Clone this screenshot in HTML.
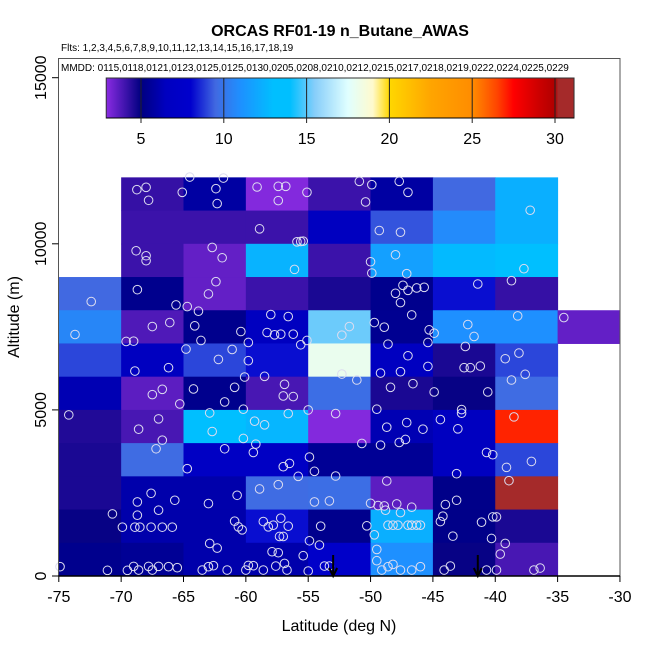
<!DOCTYPE html>
<html><head><meta charset="utf-8"><style>
html,body{margin:0;padding:0;background:#fff;}
svg{display:block;font-family:"Liberation Sans",sans-serif;}
</style></head><body>
<svg id="chart" width="650" height="650" viewBox="0 0 650 650" xmlns="http://www.w3.org/2000/svg">
<defs><linearGradient id="cbar" x1="0" x2="1" y1="0" y2="0"></linearGradient></defs>
<text x="340" y="36" text-anchor="middle" font-size="16" font-weight="bold">ORCAS RF01-19 n_Butane_AWAS</text>
<text x="61" y="51" font-size="10">Flts: 1,2,3,4,5,6,7,8,9,10,11,12,13,14,15,16,17,18,19</text>
<g id="cells"></g>
<g id="pts"></g>
<g id="arrows"></g>
<rect x="58.5" y="58.5" width="561.5" height="517.5" fill="none" stroke="#555" stroke-width="1"/>
<text x="61" y="71" font-size="10">MMDD: 0115,0118,0121,0123,0125,0125,0130,0205,0208,0210,0212,0215,0217,0218,0219,0222,0224,0225,0229</text>
<g id="cb"></g>
<g id="axes"></g>
<text x="339" y="631" text-anchor="middle" font-size="16">Latitude (deg N)</text>
<text transform="translate(19,317) rotate(-90)" text-anchor="middle" font-size="16">Altitude (m)</text>
</svg>
<script>
const latStarts=[-75,-70,-65,-60,-55,-50,-45,-40,-35];
const altStarts=[11000,10000,9000,8000,7000,6000,5000,4000,3000,2000,1000,0];
const cellValues=[
[null,4.2,5.8,3.0,4.1,5.8,9.5,12.3,null],
[null,4.1,4.1,4.1,6.5,9.2,10.8,12.3,null],
[null,4.1,3.5,12.5,4.1,11.7,12.8,13.5,null],
[9.5,5.3,3.5,4.1,4.6,5.3,8.2,4.2,null],
[10.6,3.8,5.3,6.5,15.2,5.4,11,11,3.5],
[9,6.5,9,8.2,18,6.5,4.6,9,null],
[6.2,3.6,5.3,3.9,9.7,4.6,4.9,9.6,null],
[4.5,3.9,13.5,12.6,3.0,6.2,6.5,27,null],
[4.6,9.6,7,7,5.5,5.5,6.5,9,null],
[4.6,6,6,9.6,9.7,3.6,5.2,30.5,null],
[4.9,6,6,8.2,5.3,12.3,5.2,4.6,null],
[5.3,5.5,6,6,7.5,11,4.9,3.9,null]];
const ptLat=[-68.74,-68.0,-67.8,-65.1,-62.4,-62.3,-64.5,-61.8,-59.1,-57.4,-56.8,-57.4,-55.1,-50.9,-50.4,-49.9,-47.7,-47.0,-58.9,-55.9,-55.6,-55.4,-49.3,-47.6,-68.8,-68.0,-68.0,-62.7,-61.9,-56.1,-50.0,-49.9,-48.0,-47.1,-37.2,-37.7,-68.7,-72.4,-62.4,-63.0,-65.6,-64.7,-63.8,-48.0,-47.4,-47.0,-47.6,-46.3,-45.7,-41.4,-38.7,-73.7,-67.5,-66.1,-69.6,-69.0,-64.1,-63.6,-60.4,-59.8,-58.0,-56.6,-58.3,-57.7,-57.2,-56.2,-55.6,-55.1,-51.7,-52.3,-49.7,-48.9,-46.7,-45.3,-45.4,-44.9,-42.2,-41.7,-38.2,-34.5,-68.9,-66.2,-64.8,-62.2,-61.1,-59.8,-60.1,-58.5,-52.3,-51.1,-49.2,-48.6,-47.0,-47.6,-46.6,-45.4,-42.4,-42.5,-42.0,-41.2,-39.2,-38.1,-37.6,-38.7,-64.2,-60.9,-67.5,-66.7,-65.3,-61.7,-56.9,-57.0,-56.2,-60.2,-55.0,-49.5,-48.4,-44.9,-40.6,-42.7,-42.7,-74.2,-67.0,-68.6,-66.7,-67.2,-62.9,-62.7,-59.3,-58.5,-56.6,-60.2,-59.2,-59.4,-52.8,-50.7,-49.2,-48.7,-47.1,-45.8,-47.7,-47.2,-44.4,-43.0,-38.5,-64.7,-61.7,-57.0,-56.5,-55.8,-54.9,-54.5,-52.8,-40.7,-40.2,-39.1,-37.1,-43.1,-67.6,-68.7,-65.7,-67.0,-68.7,-70.7,-69.9,-68.9,-68.5,-67.6,-66.7,-65.9,-63.0,-60.7,-58.9,-57.4,-54.5,-53.3,-48.7,-50.0,-49.4,-48.9,-47.9,-46.7,-48.8,-47.6,-44.0,-43.1,-38.9,-60.9,-60.6,-60.3,-58.6,-58.2,-57.8,-57.2,-56.6,-57.3,-57.0,-54.0,-50.3,-48.6,-48.2,-47.8,-47.0,-46.7,-46.3,-46.0,-44.4,-44.2,-41.1,-40.2,-39.9,-49.7,-43.4,-40.3,-62.9,-62.3,-54.9,-54.1,-57.9,-57.4,-55.4,-49.5,-49.5,-39.2,-39.6,-74.9,-71.1,-69.5,-69.0,-68.6,-67.8,-67.5,-67.0,-66.2,-65.5,-63.5,-63.0,-62.6,-61.5,-60.0,-59.8,-59.4,-58.6,-57.6,-56.9,-56.7,-55.0,-53.7,-53.3,-49.1,-48.6,-48.2,-47.6,-46.7,-46.0,-44.1,-43.6,-40.7,-39.9,-36.4,-36.9];
const ptAlt=[11630,11700,11310,11550,11660,11210,12010,11980,11710,11730,11730,11300,11550,11880,11260,11780,11880,11550,10450,10060,10070,10080,10400,10350,9790,9640,9490,9890,9580,9230,9460,9120,9670,9100,11010,9250,8620,8260,8860,8490,8160,8110,7970,8510,8750,8600,8230,8670,8690,8790,8890,7270,7510,7630,7060,7070,7530,7090,7360,7030,7870,7810,7330,7260,7280,7280,6960,7090,7510,7250,7630,7490,7860,7410,7030,7310,7570,7210,7830,7780,6170,6270,6830,6520,6820,6480,5990,6010,6080,5900,6110,6980,6630,6150,5790,6310,6910,6270,6270,6320,6540,6710,6070,5900,5630,5680,5460,5620,5180,5240,5770,5420,5400,5020,5000,5020,5680,5540,5540,5010,4900,4850,4730,4420,4090,3830,4910,4350,4660,4550,4890,4140,3970,3720,4890,3990,3940,4480,4620,4420,4020,4110,4710,4430,4790,3230,3830,3290,3390,3000,3580,3150,3010,3720,3650,3270,3450,3080,2490,2230,2280,1980,1830,1870,1470,1470,1470,1470,1470,1470,2180,2430,2620,2750,2230,2260,2860,2190,2120,2110,2170,2070,1980,1910,2150,2280,2870,1650,1480,1390,1640,1480,1530,1740,1500,1190,1190,1500,1510,1530,1530,1530,1530,1530,1530,1530,1640,1800,1620,1780,1780,1240,1200,1130,980,840,1060,930,730,700,610,800,460,980,660,280,170,170,290,180,290,180,290,280,250,180,280,310,180,180,320,310,180,300,380,180,150,300,300,180,280,350,180,180,280,180,300,180,180,240,180];
const arrowLats=[-53.0,-41.4];
const xTicks=[-75,-70,-65,-60,-55,-50,-45,-40,-35,-30];
const yTicks=[0,5000,10000,15000];
const cbTicks=[5,10,15,20,25,30];
const cbStops=[[2.9,[138,43,226]],[5,[0,0,128]],[6.5,[0,0,192]],[8,[0,0,205]],[9.5,[65,105,225]],[11,[30,144,255]],[13,[0,191,255]],[14,[0,191,255]],[15.5,[135,206,250]],[17.5,[224,255,255]],[19,[255,250,205]],[20,[255,215,0]],[22.5,[255,165,0]],[25,[255,140,0]],[26.5,[255,69,0]],[27.5,[255,0,0]],[29,[205,0,0]],[30,[176,0,0]],[30.2,[165,42,42]],[31.15,[165,42,42]]];

const X=l=>58.8+(l+75)*12.47;
const Y=a=>576-a*0.03322;
const CBX=v=>141+(v-5)*16.56;
const NS='http://www.w3.org/2000/svg';
function mk(tag,attrs,parent){const e=document.createElementNS(NS,tag);for(const k in attrs)e.setAttribute(k,attrs[k]);parent.appendChild(e);return e;}
function col(v){
  for(let i=0;i<cbStops.length-1;i++){const a=cbStops[i],b=cbStops[i+1];
    if(v<=b[0]){const t=Math.max(0,(v-a[0])/(b[0]-a[0]));const c=a[1].map((x,j)=>Math.round(x+(b[1][j]-x)*t));return 'rgb('+c.join(',')+')';}}
  return 'rgb(165,42,42)';
}
const cells=document.getElementById('cells');
cellValues.forEach((row,ri)=>row.forEach((v,ci)=>{
  if(v===null)return;
  const x0=X(latStarts[ci]),x1=X(latStarts[ci]+5),y1=Y(altStarts[ri]),y0=Y(altStarts[ri]+1000);
  const r=mk('rect',{x:x0,y:y0,width:x1-x0+0.5,height:y1-y0+0.5,fill:col(v)},cells);
  
  
}));
const pts=document.getElementById('pts');
ptLat.forEach((l,i)=>{
  const c=mk('circle',{cx:X(l),cy:Y(ptAlt[i]),r:4.3,fill:'none',stroke:'#dcdcf0','stroke-width':1},pts);
  
  
});
const arr=document.getElementById('arrows');
arrowLats.forEach(l=>{
  const g=mk('g',{},arr);
  
  
  const x=X(l);
  mk('line',{x1:x,y1:555,x2:x,y2:575,stroke:'#000','stroke-width':2},g);
  mk('polyline',{points:(x-4)+',568 '+x+',576 '+(x+4)+',568',fill:'none',stroke:'#000','stroke-width':2},g);
});
// colorbar
const grad=document.getElementById('cbar');
const lo=2.9,hi=31.15;
cbStops.forEach(s=>{mk('stop',{offset:((s[0]-lo)/(hi-lo)).toFixed(4),'stop-color':'rgb('+s[1].join(',')+')'},grad);});
const cb=document.getElementById('cb');
mk('rect',{x:CBX(lo),y:78,width:CBX(hi)-CBX(lo),height:40,fill:'url(#cbar)',stroke:'#333','stroke-width':1},cb);
mk('line',{x1:CBX(lo),y1:118,x2:CBX(hi),y2:118,stroke:'#000','stroke-width':1},cb);
cbTicks.forEach(v=>{
  mk('line',{x1:CBX(v),y1:78,x2:CBX(v),y2:123,stroke:'#222','stroke-width':1},cb);
  const t=mk('text',{x:CBX(v),y:144,'text-anchor':'middle','font-size':16},cb);t.textContent=v;
  
  
});
// axes
const ax=document.getElementById('axes');
mk('line',{x1:58.5,y1:576,x2:620,y2:576,stroke:'#000','stroke-width':1.5},ax);
xTicks.forEach(v=>{
  mk('line',{x1:X(v),y1:576,x2:X(v),y2:582,stroke:'#000','stroke-width':1},ax);
  const t=mk('text',{x:X(v),y:602,'text-anchor':'middle','font-size':16},ax);t.textContent=v;
  
  
});
yTicks.forEach(v=>{
  mk('line',{x1:52,y1:Y(v),x2:58.5,y2:Y(v),stroke:'#000','stroke-width':1},ax);
  const t=mk('text',{transform:'translate(46,'+Y(v)+') rotate(-90)','text-anchor':'middle','font-size':16},ax);t.textContent=v;
  
  
});
</script>
</body></html>
